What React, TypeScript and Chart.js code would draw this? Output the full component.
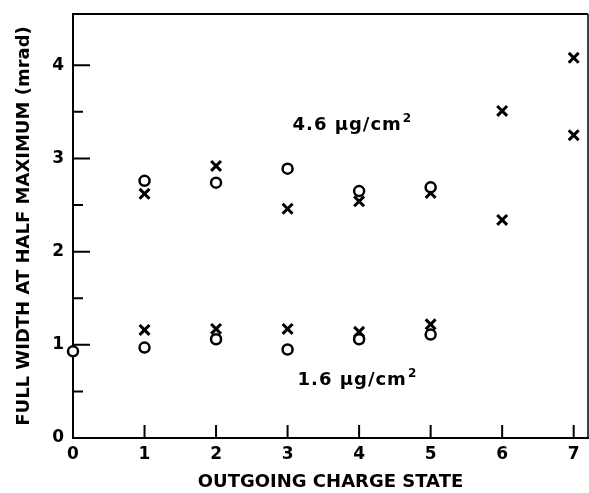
import React, { useEffect, useRef } from "react";
import { Chart, registerables } from "chart.js";

Chart.register(...registerables);

// ---- data ----
const xTickValues = [0, 1, 2, 3, 4, 5, 6, 7];
const yMajorTicks = [0, 1, 2, 3, 4];
const yMinorTicks = [0.5, 1.5, 2.5, 3.5];

// 4.6 ug/cm2 target
const thickCircleX = [1, 2, 3, 4, 5];
const thickCircleY = [2.76, 2.74, 2.89, 2.65, 2.69];
const thickCrossX = [1, 2, 3, 4, 5, 6, 6, 7, 7];
const thickCrossY = [2.62, 2.92, 2.46, 2.54, 2.63, 3.51, 2.34, 4.08, 3.25];

// 1.6 ug/cm2 target
const thinCircleX = [0, 1, 2, 3, 4, 5];
const thinCircleY = [0.93, 0.97, 1.06, 0.95, 1.06, 1.11];
const thinCrossX = [1, 2, 3, 4, 5];
const thinCrossY = [1.16, 1.17, 1.17, 1.14, 1.22];

const labelTexts = ["4.6 \u03BCg/cm", "1.6 \u03BCg/cm"];
const labelX = [3.07, 3.14];
const labelY = [3.36, 0.62];

const X_MIN = 0;
const X_MAX = 7.2;
const Y_MIN = 0;
const Y_MAX = 4.55;

const FONT = "'DejaVu Sans', 'Liberation Sans', sans-serif";

const pts = (xs: number[], ys: number[]) => xs.map((x, i) => ({ x, y: ys[i] }));

const framePlugin = {
  id: "frameTicks",
  beforeDatasetsDraw(chart: any) {
    const { ctx, chartArea, scales } = chart;
    const xs = scales.x;
    const ys = scales.y;
    ctx.save();
    ctx.strokeStyle = "#000";
    // top & right frame
    ctx.lineWidth = 2;
    ctx.beginPath();
    ctx.moveTo(chartArea.left, chartArea.top);
    ctx.lineTo(chartArea.right, chartArea.top);
    ctx.stroke();
    ctx.lineWidth = 1.5;
    ctx.beginPath();
    ctx.moveTo(chartArea.right, chartArea.top);
    ctx.lineTo(chartArea.right, chartArea.bottom);
    ctx.stroke();
    // inward ticks
    ctx.lineWidth = 2;
    ctx.beginPath();
    yMajorTicks.forEach((v) => {
      const p = ys.getPixelForValue(v);
      ctx.moveTo(chartArea.left, p);
      ctx.lineTo(chartArea.left + 17, p);
    });
    yMinorTicks.forEach((v) => {
      const p = ys.getPixelForValue(v);
      ctx.moveTo(chartArea.left, p);
      ctx.lineTo(chartArea.left + 10, p);
    });
    xTickValues.forEach((v) => {
      const p = xs.getPixelForValue(v);
      ctx.moveTo(p, chartArea.bottom);
      ctx.lineTo(p, chartArea.bottom - 13);
    });
    ctx.stroke();
    // annotations
    ctx.fillStyle = "#000";
    ctx.textBaseline = "middle";
    ctx.textAlign = "left";
    labelTexts.forEach((t, i) => {
      const px = xs.getPixelForValue(labelX[i]);
      const py = ys.getPixelForValue(labelY[i]);
      ctx.font = `bold 18px ${FONT}`;
      try { (ctx as any).letterSpacing = "1px"; } catch (e) {}
      ctx.fillText(t, px, py);
      const w = ctx.measureText(t).width;
      ctx.font = `bold 12px ${FONT}`;
      ctx.fillText("2", px + w + 1, py - 6);
      try { (ctx as any).letterSpacing = "0px"; } catch (e) {}
    });
    ctx.restore();
  },
};

export default function App() {
  const ref = useRef<HTMLCanvasElement | null>(null);
  useEffect(() => {
    if (!ref.current) return;
    const circleStyle = {
      pointStyle: "circle" as const,
      pointRadius: 5,
      pointBackgroundColor: "#fff",
      pointBorderColor: "#000",
      pointBorderWidth: 2.5,
      showLine: false,
      clip: false as any,
    };
    const crossStyle = {
      pointStyle: "crossRot" as const,
      pointRadius: 7,
      pointBorderColor: "#000",
      pointBorderWidth: 3,
      showLine: false,
      clip: false as any,
    };
    const chart = new Chart(ref.current, {
      type: "scatter",
      data: {
        datasets: [
          { label: "4.6 circles", data: pts(thickCircleX, thickCircleY), ...circleStyle },
          { label: "4.6 crosses", data: pts(thickCrossX, thickCrossY), ...crossStyle },
          { label: "1.6 circles", data: pts(thinCircleX, thinCircleY), ...circleStyle },
          { label: "1.6 crosses", data: pts(thinCrossX, thinCrossY), ...crossStyle },
        ],
      },
      options: {
        responsive: false,
        animation: false,
        devicePixelRatio: 1,
        layout: { autoPadding: false, padding: { top: 14, right: 1, left: 0, bottom: 0 } },
        plugins: { legend: { display: false }, tooltip: { enabled: false } },
        scales: {
          x: {
            type: "linear",
            min: X_MIN,
            max: X_MAX,
            afterBuildTicks: (s: any) => {
              s.ticks = xTickValues.map((v) => ({ value: v }));
            },
            afterFit: (s: any) => {
              s.height = 55;
              s.paddingLeft = 0;
              s.paddingRight = 0;
            },
            grid: { display: true, drawOnChartArea: false, drawTicks: false },
            border: { display: true, color: "#000", width: 2 },
            ticks: {
              padding: 6,
              color: "#000",
              font: { family: FONT, size: 17, weight: "bold" },
              maxRotation: 0,
              autoSkip: false,
              callback: (v: any) => String(v),
            },
            title: {
              display: true,
              text: "OUTGOING CHARGE STATE",
              color: "#000",
              font: { family: FONT, size: 18, weight: "bold" },
              padding: { top: 0, bottom: 0 },
            },
          },
          y: {
            type: "linear",
            min: Y_MIN,
            max: Y_MAX,
            afterBuildTicks: (s: any) => {
              s.ticks = yMajorTicks.map((v) => ({ value: v }));
            },
            afterFit: (s: any) => {
              s.width = 73;
              s.paddingTop = 0;
              s.paddingBottom = 0;
            },
            grid: { display: true, drawOnChartArea: false, drawTicks: false },
            border: { display: true, color: "#000", width: 2 },
            ticks: {
              padding: 9,
              color: "#000",
              autoSkip: false,
              font: { family: FONT, size: 17, weight: "bold" },
              callback: (v: any) => String(v),
            },
            title: {
              display: true,
              text: "FULL WIDTH AT HALF MAXIMUM (mrad)",
              color: "#000",
              font: { family: FONT, size: 18, weight: "bold" },
              padding: { top: 14, bottom: 0 },
            },
          },
        },
      },
      plugins: [framePlugin],
    });
    return () => chart.destroy();
  }, []);
  return (
    <div style={{ position: "absolute", left: 0, top: 0, width: 589, height: 493, background: "#fff" }}>
      <canvas ref={ref} width={589} height={493} />
    </div>
  );
}
